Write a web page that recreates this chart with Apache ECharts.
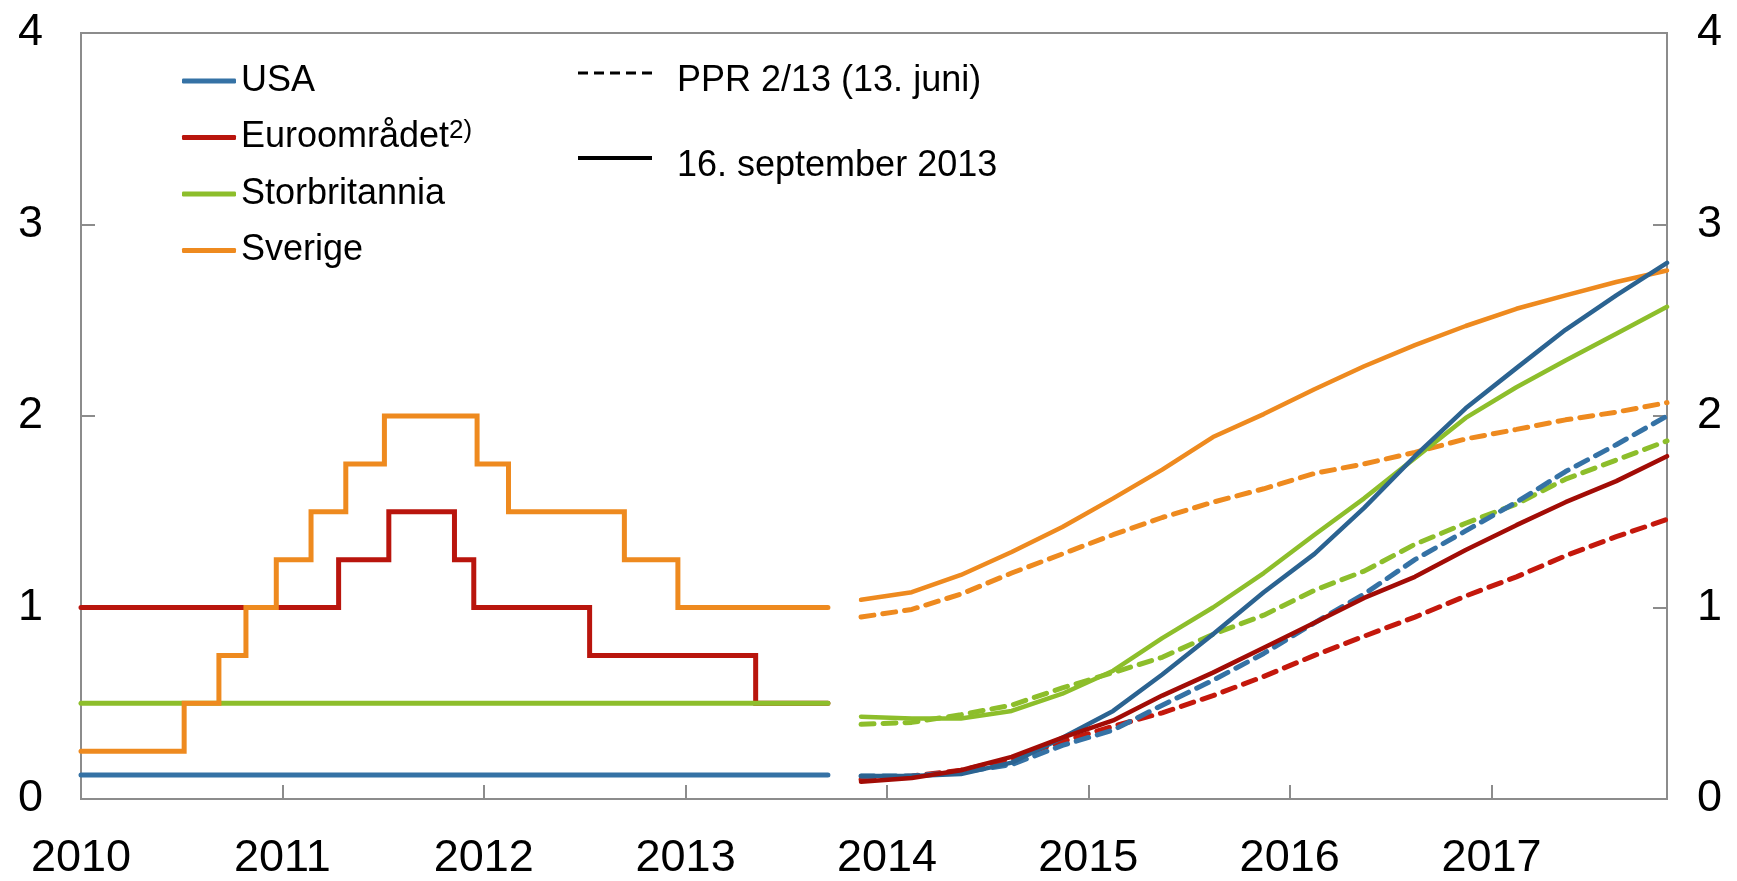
<!DOCTYPE html>
<html>
<head>
<meta charset="utf-8">
<title>Styringsrenter</title>
<script src="https://cdn.jsdelivr.net/npm/echarts@6/dist/echarts.min.js"></script>
<style>
  html, body { margin: 0; padding: 0; background: #fff; }
  #chart { width: 1737px; height: 881px; }
</style>
</head>
<body>
<div id="chart"></div>
<script>
// historiske styringsrenter (dato for endring, ny rente)
const usaDates = ['2010-01-01', '2013-09-16']
const usaRates = [0.125, 0.125]
const euroDates = ['2010-01-01', '2011-04-13', '2011-07-13', '2011-11-09', '2011-12-14', '2012-07-11', '2013-05-08', '2013-09-16']
const euroRates = [1.0, 1.25, 1.5, 1.25, 1.0, 0.75, 0.5, 0.5]
const ukDates = ['2010-01-01', '2013-09-16']
const ukRates = [0.5, 0.5]
const seDates = ['2010-01-01', '2010-07-07', '2010-09-08', '2010-10-27', '2010-12-21', '2011-02-22', '2011-04-26', '2011-07-05',
  '2011-12-20', '2012-02-15', '2012-09-12', '2012-12-18', '2013-09-16']
const seRates = [0.25, 0.5, 0.75, 1.0, 1.25, 1.5, 1.75, 2.0, 1.75, 1.5, 1.25, 1.0, 1.0]

// terminrenter, kvartal (midt i kvartalet)
const quarters = ['2013-11-15', '2014-02-15', '2014-05-15', '2014-08-15', '2014-11-15', '2015-02-15', '2015-05-15', '2015-08-15',
  '2015-11-15', '2016-02-15', '2016-05-15', '2016-08-15', '2016-11-15', '2017-02-15', '2017-05-15', '2017-08-15', '2017-11-15']
// 16. september 2013
const usaSep = [0.12, 0.12, 0.13, 0.19, 0.32, 0.46, 0.65, 0.86, 1.08, 1.28, 1.52, 1.79, 2.04, 2.25, 2.45, 2.63, 2.80]
const euroSep = [0.09, 0.11, 0.15, 0.22, 0.32, 0.41, 0.54, 0.66, 0.79, 0.92, 1.05, 1.16, 1.30, 1.43, 1.55, 1.66, 1.79]
const ukSep = [0.43, 0.42, 0.42, 0.46, 0.55, 0.67, 0.84, 1.00, 1.18, 1.38, 1.57, 1.78, 1.99, 2.15, 2.29, 2.43, 2.57]
const seSep = [1.04, 1.08, 1.17, 1.29, 1.42, 1.57, 1.72, 1.89, 2.01, 2.14, 2.26, 2.37, 2.47, 2.56, 2.63, 2.70, 2.76]
// PPR 2/13 (13. juni)
const usaJun = [0.12, 0.12, 0.14, 0.18, 0.28, 0.36, 0.49, 0.62, 0.76, 0.92, 1.07, 1.25, 1.40, 1.55, 1.71, 1.85, 2.00]
const euroJun = [0.10, 0.12, 0.15, 0.21, 0.30, 0.38, 0.45, 0.54, 0.64, 0.75, 0.85, 0.95, 1.06, 1.16, 1.27, 1.37, 1.46]
const ukJun = [0.39, 0.40, 0.44, 0.49, 0.58, 0.66, 0.74, 0.86, 0.96, 1.09, 1.19, 1.33, 1.44, 1.54, 1.67, 1.77, 1.87]
const seJun = [0.95, 0.99, 1.07, 1.18, 1.28, 1.38, 1.47, 1.55, 1.62, 1.70, 1.75, 1.81, 1.88, 1.93, 1.98, 2.02, 2.07]

const yTicks = [0, 1, 2, 3, 4]

const FONT = 'Liberation Sans, Arial, sans-serif'
const BLUE = '#3572a5'
const BLUE_DARK = '#2b6391'
const RED = '#b9150d'
const RED_DARK = '#a20c06'
const RED_DASH = '#c4180c'
const GREEN = '#8dbe2b'
const ORANGE = '#ee8a1f'
// strek-ikon til legenden (fem streker)
const DASH_ICON = 'path://M0 0H10V3H0Z M16 0H26V3H16Z M32 0H42V3H32Z M48 0H58V3H48Z M64 0H74V3H64Z'

const pairs = (xs, ys) => xs.map((x, i) => [x, ys[i]])

function histSeries(name, xs, ys, color) {
  return {
    name, type: 'line', step: 'end', symbol: 'none', z: 3,
    data: pairs(xs, ys),
    lineStyle: { color, width: 5, cap: 'round', join: 'miter' },
    itemStyle: { color }
  }
}
function fcSeries(name, ys, color, dashed) {
  return {
    name, type: 'line', symbol: 'none', z: dashed ? 2 : 3,
    data: pairs(quarters, ys),
    lineStyle: { color, width: dashed ? 5 : 4.5, type: dashed ? [13, 9] : 'solid', cap: 'round' },
    itemStyle: { color }
  }
}

const chart = echarts.init(document.getElementById('chart'))
const YEAR = 365 * 24 * 3600 * 1000

const yAxisBase = {
  type: 'value', min: yTicks[0], max: yTicks[yTicks.length - 1], interval: 1,
  axisLine: { show: true, lineStyle: { color: '#8c8c8c', width: 2 } },
  axisTick: { show: true, inside: true, length: 14, lineStyle: { color: '#8c8c8c', width: 2 } },
  splitLine: { show: false },
  axisLabel: { color: '#000', fontSize: 45, fontFamily: FONT }
}

chart.setOption({
  animation: false,
  backgroundColor: '#fff',
  grid: { left: 81, right: 70, top: 33, bottom: 78, show: true, borderColor: '#8c8c8c', borderWidth: 2 },
  xAxis: {
    type: 'time',
    min: '2010-01-01',
    max: quarters[quarters.length - 1],
    minInterval: YEAR,
    maxInterval: YEAR + 24 * 3600 * 1000,
    axisLine: { lineStyle: { color: '#8c8c8c', width: 2 } },
    axisTick: { show: true, inside: true, length: 14, lineStyle: { color: '#8c8c8c', width: 2 } },
    splitLine: { show: false },
    axisLabel: {
      color: '#000', fontSize: 45, fontFamily: FONT, margin: 37,
      showMaxLabel: false, hideOverlap: false,
      formatter: '{yyyy}'
    }
  },
  yAxis: [
    Object.assign({}, yAxisBase, { position: 'left', axisLabel: Object.assign({}, yAxisBase.axisLabel, { margin: 38 }) }),
    Object.assign({}, yAxisBase, { position: 'right', axisLabel: Object.assign({}, yAxisBase.axisLabel, { margin: 30 }) })
  ],
  legend: [
    {
      data: ['USA', 'Euroområdet', 'Storbritannia', 'Sverige'],
      icon: 'roundRect',
      orient: 'vertical', left: 177, top: 56,
      itemWidth: 54, itemHeight: 5, itemGap: 16.5,
      selectedMode: false,
      textStyle: {
        fontSize: 36, fontFamily: FONT, color: '#000', lineHeight: 40,
        rich: { sup: { fontSize: 26, fontFamily: FONT, color: '#000', verticalAlign: 'top', lineHeight: 40, padding: [0, 0, 10, 0] } }
      },
      formatter: name => name === 'Euroområdet' ? 'Euroområdet{sup|2)}' : name
    },
    {
      data: [
        { name: 'PPR 2/13 (13. juni)', icon: DASH_ICON },
        { name: '16. september 2013', icon: 'rect' }
      ],
      orient: 'vertical', left: 573, top: 42,
      itemWidth: 74, itemHeight: 4, itemGap: 33,
      selectedMode: false,
      textStyle: {
        fontSize: 36, fontFamily: FONT, color: '#000',
        rich: { t: { fontSize: 36, fontFamily: FONT, color: '#000', lineHeight: 40, padding: [16, 0, 0, 20] } }
      },
      formatter: name => '{t|' + name + '}'
    }
  ],
  series: [
    { name: 'PPR 2/13 (13. juni)', type: 'line', symbol: 'none', data: [], itemStyle: { color: '#000' }, lineStyle: { color: '#000', width: 3, type: [10, 5] } },
    { name: '16. september 2013', type: 'line', symbol: 'none', data: [], itemStyle: { color: '#000' }, lineStyle: { color: '#000', width: 4 } },
    histSeries('USA', usaDates, usaRates, BLUE),
    histSeries('Euroområdet', euroDates, euroRates, RED),
    histSeries('Storbritannia', ukDates, ukRates, GREEN),
    histSeries('Sverige', seDates, seRates, ORANGE),
    fcSeries('Sverige juni', seJun, ORANGE, true),
    fcSeries('Storbritannia juni', ukJun, GREEN, true),
    fcSeries('Euroområdet juni', euroJun, RED_DASH, true),
    fcSeries('USA juni', usaJun, BLUE, true),
    fcSeries('Sverige sep', seSep, ORANGE, false),
    fcSeries('Storbritannia sep', ukSep, GREEN, false),
    fcSeries('USA sep', usaSep, BLUE_DARK, false),
    fcSeries('Euroområdet sep', euroSep, RED_DARK, false)
  ]
})
</script>
</body>
</html>
